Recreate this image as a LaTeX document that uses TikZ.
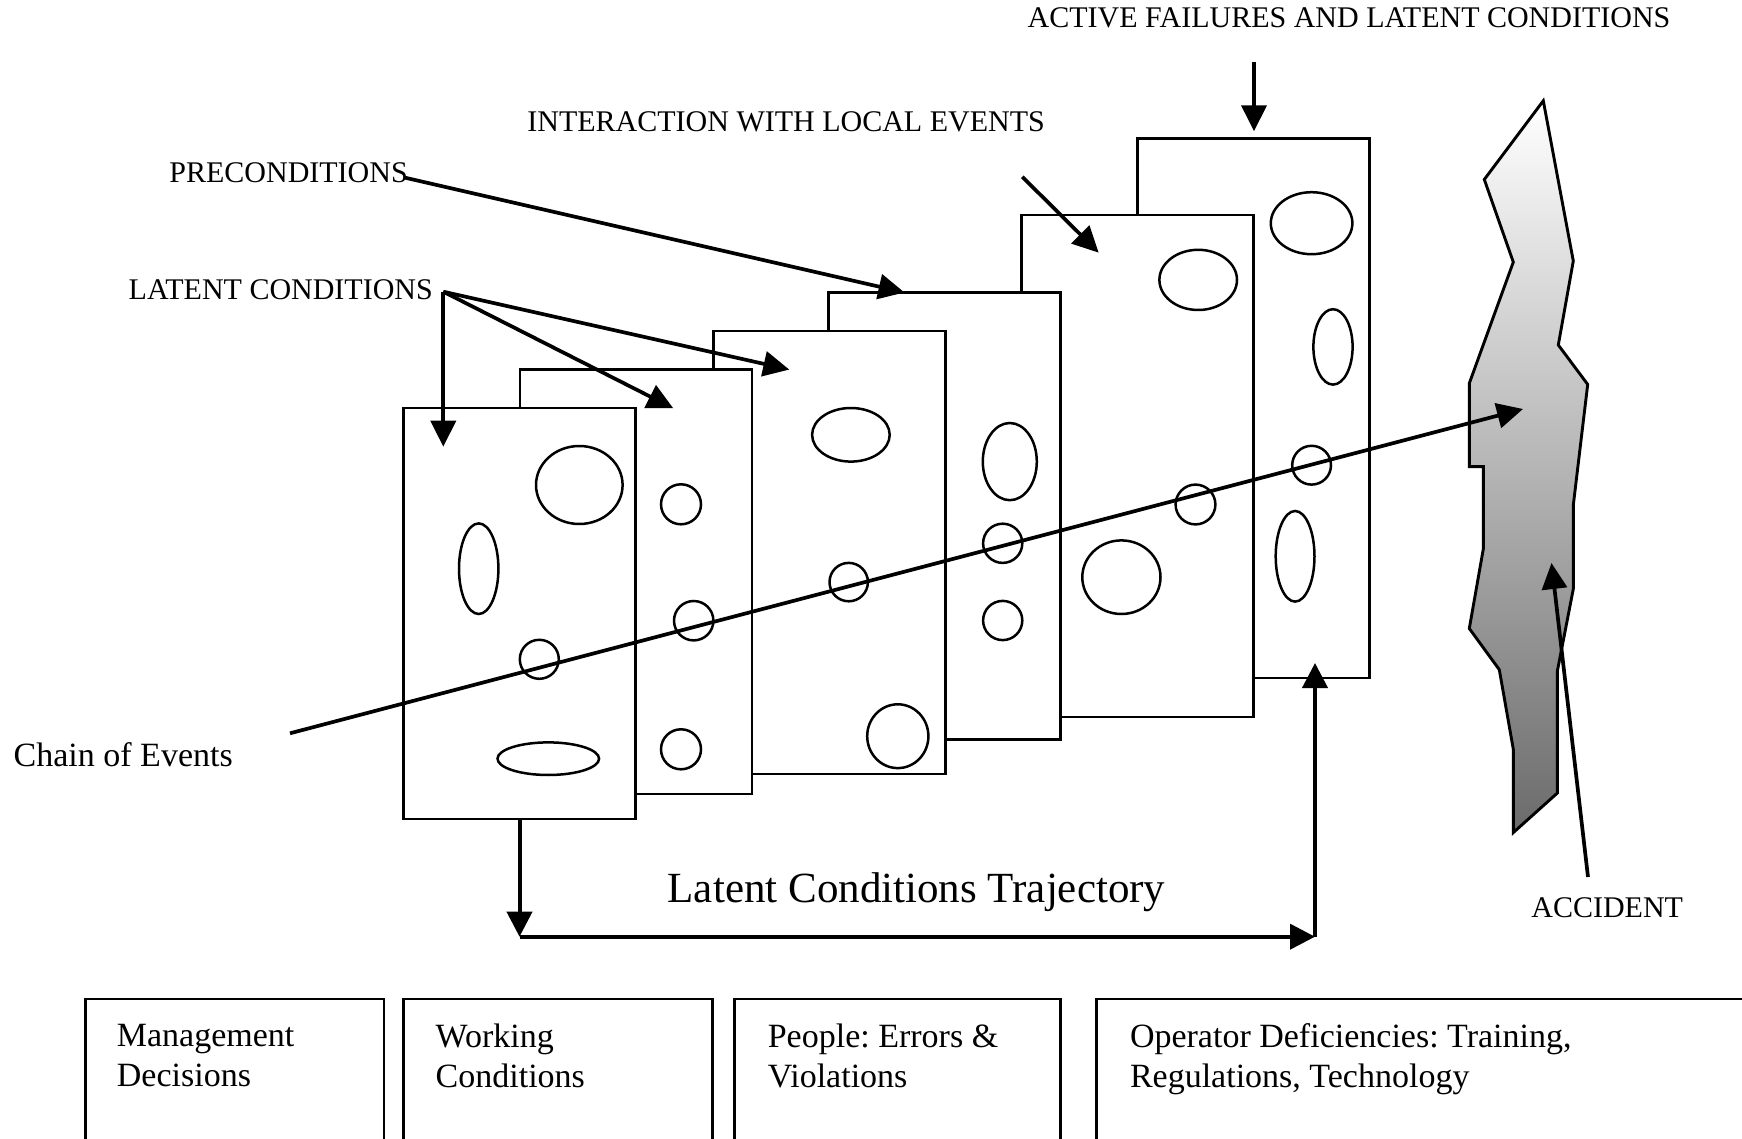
\documentclass[tikz,border=0pt]{standalone}
\usepackage{fontspec}
\setmainfont{Liberation Serif}
\usetikzlibrary{arrows.meta}
\frenchspacing

\tikzset{
  slice/.style={draw, fill=white, line width=1.45pt, inner sep=0pt, outer sep=0pt,
                anchor=north west, minimum width=116pt},
  hole/.style={draw, line width=1.25pt},
  pointer/.style={line width=1.85pt, -{Triangle[length=13pt,width=12.5pt]}},
  trajectory/.style={line width=2pt, -{Triangle[length=12.5pt,width=12.5pt]}},
  caplabel/.style={inner sep=0pt, anchor=base west, font=\fontsize{15}{18}\selectfont},
  panel/.style={draw, line width=1.4pt, anchor=north west, inner sep=0pt, outer sep=0pt,
                minimum height=100pt},
  paneltext/.style={inner sep=0pt, anchor=north west, align=left,
                    font=\fontsize{17}{20}\selectfont},
}

\begin{document}
\begin{tikzpicture}[x=0.5pt, y=-0.5pt]
\useasboundingbox (0,0) rectangle (1742,1139);
\fill[white] (0,0) rectangle (1742,1139);
\clip (0,0) rectangle (1742,1139);

% ---- defence layers, drawn from back to front ----
\node[slice, minimum height=269.75pt] (s6) at (1137.6,138.5) {};
\draw[hole] (1311.6,223.2) ellipse [x radius=20.4pt, y radius=15.5pt];
\draw[hole] (1333,346.9) ellipse [x radius=9.8pt, y radius=18.85pt];
\draw[hole] (1311.6,465.2) ellipse [x radius=9.7pt, y radius=9.7pt];
\draw[hole] (1295.1,556.3) ellipse [x radius=9.7pt, y radius=22.65pt];

\node[slice, minimum height=251pt] (s5) at (1021.7,215) {};
\draw[hole] (1198.2,279.9) ellipse [x radius=19.4pt, y radius=15.05pt];
\draw[hole] (1195.5,504.5) ellipse [x radius=9.95pt, y radius=9.95pt];
\draw[hole] (1121.4,577.2) ellipse [x radius=19.55pt, y radius=18.4pt];

\node[slice, minimum height=223.5pt] (s4) at (828.7,292.5) {};
\draw[hole] (1009.8,461.6) ellipse [x radius=13.5pt, y radius=19.3pt];
\draw[hole] (1002.7,543.3) ellipse [x radius=9.8pt, y radius=9.8pt];
\draw[hole] (1002.7,620.5) ellipse [x radius=9.8pt, y radius=9.8pt];

\node[slice, minimum height=221.5pt] (s3) at (713.4,331) {};
\draw[hole] (850.9,434.8) ellipse [x radius=19.4pt, y radius=13.4pt];
\draw[hole] (848.7,582.1) ellipse [x radius=9.6pt, y radius=9.6pt];
\draw[hole] (897.8,736.2) ellipse [x radius=15.3pt, y radius=15.95pt];

\node[slice, minimum height=212.25pt] (s2) at (520,369.5) {};
\draw[hole] (681,504.3) ellipse [x radius=10pt, y radius=10pt];
\draw[hole] (693.7,620.7) ellipse [x radius=9.85pt, y radius=9.85pt];
\draw[hole] (681,749.3) ellipse [x radius=10pt, y radius=10pt];

\node[slice, minimum height=205.5pt] (s1) at (403.5,408) {};
\draw[hole] (579.3,485) ellipse [x radius=21.65pt, y radius=19.5pt];
\draw[hole] (478.7,568.7) ellipse [x radius=9.85pt, y radius=22.65pt];
\draw[hole] (539.3,659.3) ellipse [x radius=9.75pt, y radius=9.75pt];
\draw[hole] (548.3,758.7) ellipse [x radius=25.4pt, y radius=8.15pt];

% ---- the accident ----
\shadedraw[top color=white, bottom color=black!58, line width=1.45pt, line join=miter]
  (1543.3,100.8) -- (1573.3,261) -- (1558.3,345) -- (1587.7,384.4) -- (1573.3,505.1)
  -- (1573.3,589) -- (1557.3,671.3) -- (1557.3,793.1) -- (1513.3,832.6) -- (1513.3,749.2)
  -- (1499.3,669.7) -- (1469.3,628.5) -- (1483.3,549) -- (1483.3,466.7) -- (1469.3,466.7)
  -- (1469.3,383.3) -- (1513.3,262.1) -- (1484.3,179.5) -- cycle;

% ---- labels ----
\node[caplabel] (active) at (1027.3,27.5) {ACTIVE FAILURES AND LATENT CONDITIONS};
\node[caplabel] (interact) at (527,131.7) {INTERACTION WITH LOCAL EVENTS};
\node[caplabel] (precond) at (169,182.7) {PRECONDITIONS};
\node[caplabel] (latent) at (128.3,299.3) {LATENT CONDITIONS};
\node[caplabel] (accident) at (1531,917.5) {ACCIDENT};
\node[inner sep=0pt, anchor=base west, font=\fontsize{17}{20}\selectfont]
  (chain) at (13.3,766.7) {Chain of Events};
\node[inner sep=0pt, anchor=base west, font=\fontsize{21.5}{25}\selectfont]
  (trajlabel) at (667.3,902.3) {Latent Conditions Trajectory};

% ---- connector end points ----
\coordinate (latsrc) at (443.3,291.7);
\coordinate (lattip1) at (443.3,446.7);
\coordinate (lattip2) at (673.3,408.3);
\coordinate (lattip3) at (789.3,369.6);
\coordinate (presrc) at (403.3,177.3);
\coordinate (pretip) at (904.5,292.5);
\coordinate (intsrc) at (1022.3,176.8);
\coordinate (inttip) at (1098.7,252.7);
\coordinate (actsrc) at (1254,62);
\coordinate (acttip) at (1254,131.3);
\coordinate (accsrc) at (1588,877);
\coordinate (acctip) at (1551.5,563);
\coordinate (chainsrc) at (290,733.3);
\coordinate (chaintip) at (1523,409);
\path (s1.south) ++(0,117.7) coordinate (tr1);
\coordinate (tr2) at (1315,936.7);
\coordinate (tr3) at (1315,663);

% ---- connectors ----
\draw[pointer] (chainsrc) -- (chaintip);
\draw[pointer] (latsrc) -- (lattip1);
\draw[pointer] (latsrc) -- (lattip2);
\draw[pointer] (latsrc) -- (lattip3);
\draw[pointer] (presrc) -- (pretip);
\draw[pointer] (intsrc) -- (inttip);
\draw[pointer] (actsrc) -- (acttip);
\draw[pointer] (accsrc) -- (acctip);

\draw[trajectory] (s1.south) -- (tr1);
\draw[trajectory] (tr1) -- (tr2);
\draw[trajectory] (tr2) -- (tr3);

% ---- contributing factors ----
\node[panel, minimum width=149.25pt] (p1) at (85.5,999) {};
\node[panel, minimum width=154.7pt] (p2) at (403.3,999) {};
\node[panel, minimum width=163.05pt] (p3) at (734.4,999) {};
\node[panel, minimum width=336.7pt] (p4) at (1096.6,999) {};

\node[paneltext] (t1) at ([shift={(31,25)}]p1.north west) {Management\\Decisions};
\node[paneltext] (t2) at ([shift={(32,24.5)}]p2.north west) {Working\\Conditions};
\node[paneltext] (t3) at ([shift={(33,24.5)}]p3.north west) {People: Errors \&\\Violations};
\node[paneltext] (t4) at ([shift={(33,24.5)}]p4.north west) {Operator Deficiencies: Training,\\Regulations, Technology};
\end{tikzpicture}
\end{document}
